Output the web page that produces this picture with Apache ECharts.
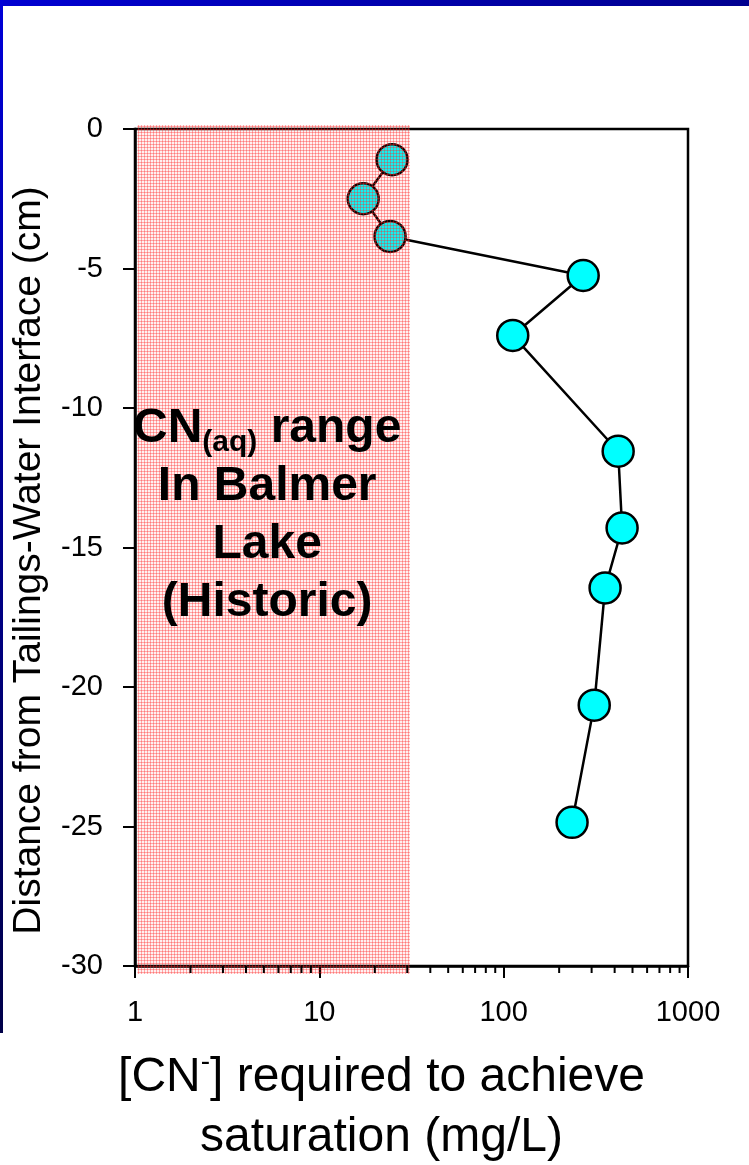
<!DOCTYPE html>
<html>
<head>
<meta charset="utf-8">
<script src="https://cdn.jsdelivr.net/npm/echarts@6/dist/echarts.min.js"></script>
<style>
  html, body { margin: 0; padding: 0; background: #fff; }
  #main { width: 749px; height: 1165px; }
</style>
</head>
<body>
<div id="main"></div>
<script>
// values
var cnRequired = [24.8, 17.3, 24.2, 270, 112, 418, 439, 355, 310, 235];
var depth = [-1.1, -2.5, -3.85, -5.25, -7.4, -11.55, -14.3, -16.45, -20.65, -24.85];
var shadeRange = [1.03, 31];
var minorTicks = [2, 3, 4, 5, 6, 7, 8, 9, 20, 30, 40, 50, 60, 70, 80, 90, 200, 300, 400, 500, 600, 700, 800, 900];

var font = "'Liberation Sans', Arial, sans-serif";

// small hatch tile for the pink range
var tile = document.createElement('canvas');
tile.width = 3; tile.height = 3;
var tc = tile.getContext('2d');
tc.fillStyle = 'rgba(255,60,60,0.08)';
tc.fillRect(0, 0, 3, 3);
tc.fillStyle = 'rgba(255,40,40,0.36)';
tc.fillRect(0, 0, 3, 1);
tc.fillRect(0, 0, 1, 3);

var chart = echarts.init(document.getElementById('main'));

var option = {
    backgroundColor: '#fff',
    animation: false,
    grid: {
        left: 135, right: 61, top: 129, bottom: 199,
        containLabel: false, outerBoundsMode: 'none',
        show: true, borderColor: '#000', borderWidth: 2.5, backgroundColor: 'transparent'
    },
    xAxis: {
        type: 'log', logBase: 10, min: 1, max: 1000,
        splitLine: { show: false },
        axisLine: { onZero: false, lineStyle: { color: '#000', width: 2.5 } },
        axisTick: { inside: false, length: 12, lineStyle: { color: '#000', width: 2 } },
        axisLabel: {
            color: '#000', fontSize: 29, fontFamily: font, margin: 32,
            formatter: function (v) { return String(Math.round(v)); }
        },
        name: '[CN{sup|-}] required to achieve\nsaturation (mg/L)',
        nameLocation: 'middle',
        nameGap: 82,
        nameTextStyle: {
            color: '#000', fontSize: 48, fontFamily: font, lineHeight: 60, align: 'center', verticalAlign: 'top',
            padding: [0, 60, 0, 0],
            rich: { sup: { fontSize: 28, verticalAlign: 'top', padding: [0, 0, 24, 0], fontFamily: font, color: '#000' } }
        }
    },
    yAxis: {
        type: 'value', min: -30, max: 0, interval: 5,
        splitLine: { show: false },
        axisLine: { onZero: false, lineStyle: { color: '#000', width: 2.5 } },
        axisTick: { inside: false, length: 12, lineStyle: { color: '#000', width: 2 } },
        axisLabel: { color: '#000', fontSize: 29, fontFamily: font, margin: 32 },
        name: 'Distance from Tailings-Water Interface (cm)',
        nameLocation: 'middle',
        nameRotate: 90,
        nameGap: 86,
        nameTextStyle: { color: '#000', fontSize: 39, fontFamily: font, padding: [0, 26, 0, 0] }
    },
    series: [
        {
            type: 'line',
            data: cnRequired.map(function (v, i) { return [v, depth[i]]; }),
            symbol: 'circle',
            symbolSize: 31,
            z: 3,
            lineStyle: { color: '#000', width: 2.5 },
            itemStyle: { color: '#00ffff', borderColor: '#000', borderWidth: 2.5 }
        },
        {
            type: 'custom',
            z: 10,
            silent: true,
            data: [shadeRange],
            renderItem: function (params, api) {
                var a = api.coord([api.value(0), 0]);
                var b = api.coord([api.value(1), -30]);
                return {
                    type: 'rect',
                    shape: { x: a[0], y: a[1] - 4, width: b[0] - a[0], height: b[1] - a[1] + 12 },
                    style: { fill: { image: tile, repeat: 'repeat' } }
                };
            }
        },
        {
            type: 'custom',
            z: 11,
            silent: true,
            data: minorTicks.map(function (v) { return [v]; }),
            renderItem: function (params, api) {
                var p = api.coord([api.value(0), -30]);
                return {
                    type: 'line',
                    shape: { x1: p[0], y1: p[1], x2: p[0], y2: p[1] + 7 },
                    style: { stroke: '#000', lineWidth: 2 }
                };
            }
        }
    ],
    graphic: [
        {
            type: 'rect', left: 0, top: 0, silent: true,
            shape: { width: 749, height: 6 },
            style: { fill: new echarts.graphic.LinearGradient(0, 0, 1, 0, [
                { offset: 0, color: '#0000d2' }, { offset: 0.6, color: '#0000a8' }, { offset: 1, color: '#000090' }
            ]) }
        },
        {
            type: 'rect', left: 0, top: 0, silent: true,
            shape: { width: 3, height: 1033 },
            style: { fill: new echarts.graphic.LinearGradient(0, 0, 0, 1, [
                { offset: 0, color: '#0000d8' }, { offset: 1, color: '#000048' }
            ]) }
        },
        {
            type: 'text', left: 133, top: 405, z: 20, silent: true,
            style: {
                text: '{b|CN}{sub|(aq)}{b| range}\n{b|In Balmer}\n{b|Lake}\n{b|(Historic)}',
                align: 'center',
                width: 272,
                rich: {
                    b: { fontSize: 48, fontWeight: 'bold', fontFamily: font, color: '#000', lineHeight: 58, align: 'center' },
                    sub: { fontSize: 30, fontWeight: 'bold', fontFamily: font, color: '#000', lineHeight: 58, verticalAlign: 'bottom', padding: [20, 0, 0, 0] }
                }
            }
        }
    ]
};
chart.setOption(option);
</script>
</body>
</html>
